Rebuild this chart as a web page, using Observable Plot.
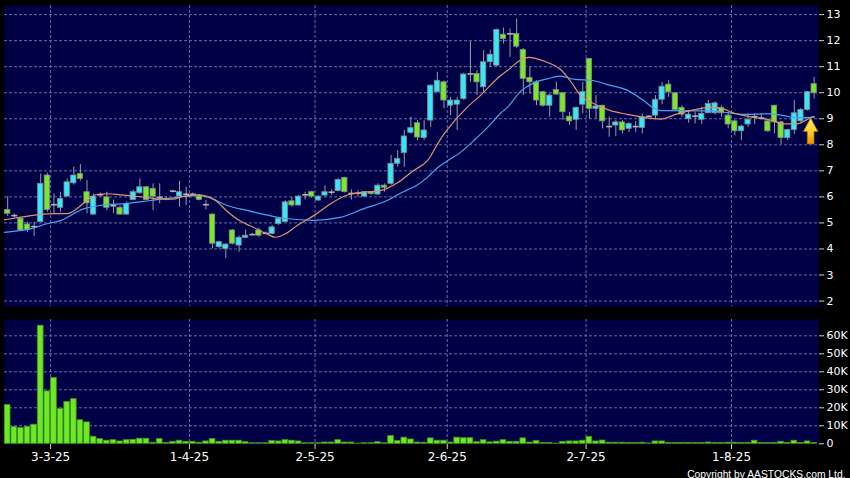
<!DOCTYPE html>
<html><head><meta charset="utf-8">
<script src="https://cdn.jsdelivr.net/npm/d3@7"></script>
<script src="https://cdn.jsdelivr.net/npm/@observablehq/plot@0.6"></script>
<style>
html,body{margin:0;padding:0;background:#000;}
#chart{position:relative;width:850px;height:478px;overflow:hidden;background:#000;font-family:"DejaVu Sans",sans-serif;}
#chart svg{display:block;}
</style></head><body><div id="chart"></div>
<script>
// ---- data (one entry per trading day, index 0 = 21-2-25) ----
const opens = [5.50,5.28,5.16,4.94,4.86,5.03,6.82,5.70,5.58,6.01, 6.52,6.88,6.18,5.32,6.08,5.98,5.66,5.58,5.32,5.88, 6.14,6.37,6.31,5.98,5.92,6.22,6.01,6.10,6.10,6.05, 5.70,5.32,4.07,4.00,4.71,4.13,4.43,4.55,4.71,4.60, 4.58,4.96,5.03,5.83,5.67,6.08,6.18,5.86,6.05,6.18, 6.22,6.73,6.13,6.14,6.01,6.18,6.09,6.43,6.50,7.27, 7.68,8.46,8.83,8.26,8.93,10.02,10.40,9.50,9.54,9.76, 10.72,10.72,10.21,11.17,11.04,12.23,12.26,12.26,11.64,10.57, 10.40,10.02,9.50,10.11,9.98,9.08,8.96,9.54,11.30,9.38, 9.50,8.70,8.74,8.86,8.61,8.70,8.65,9.09,9.12,9.73, 10.31,9.98,9.42,8.99,9.10,8.96,9.21,9.21,9.42,9.12, 8.90,8.52,8.78,9.08,9.03,8.90,9.50,8.86,8.26,8.57, 8.90,9.34,10.33];
const highs = [6.00,5.35,5.20,5.03,5.03,6.88,6.91,6.11,6.18,6.69, 7.14,7.24,6.63,6.11,6.15,6.18,5.88,5.65,5.80,6.25, 6.69,6.40,6.50,6.50,6.00,6.25,6.60,6.37,6.15,6.10, 5.86,5.35,4.30,4.20,4.75,4.50,4.73,4.60,4.80,4.65, 4.90,5.20,5.85,5.98,6.05,6.18,6.22,6.05,6.43,6.27, 6.70,6.75,6.27,6.24,6.20,6.20,6.50,6.50,7.59,7.78, 8.55,9.06,8.93,8.93,10.30,10.78,10.45,9.82,9.82,10.75, 11.97,10.85,11.62,11.64,12.45,12.49,12.45,12.83,11.70,10.98, 10.46,10.05,9.95,10.40,10.00,9.25,9.45,10.40,11.32,9.89, 9.52,9.06,8.93,8.93,8.85,8.90,9.19,9.12,9.89,10.40, 10.46,10.00,9.50,9.31,9.25,9.44,9.70,9.65,9.50,9.25, 8.95,8.75,9.19,9.19,9.19,8.95,9.52,8.90,8.60,9.70, 9.40,10.05,10.59];
const lows = [5.25,5.20,4.68,4.64,4.48,5.00,5.41,5.35,5.41,6.00, 6.45,6.60,5.35,5.30,6.00,5.47,5.35,5.30,5.30,5.85, 6.10,5.85,5.47,5.73,5.85,6.15,5.60,5.67,6.05,5.85, 5.50,4.00,4.00,3.62,4.15,3.87,4.39,4.50,4.45,4.55, 4.55,4.90,5.00,5.60,5.65,5.88,5.95,5.83,6.00,6.05, 6.20,6.15,5.88,5.99,5.98,6.05,6.05,6.18,6.45,7.14, 7.14,8.40,8.16,8.16,8.67,10.00,9.38,9.12,8.55,9.70, 10.40,9.89,10.02,10.98,11.00,11.87,11.36,11.70,9.89,9.95, 9.50,9.45,9.06,9.90,8.93,8.74,8.55,9.19,8.99,8.99, 8.61,8.29,8.31,8.42,8.48,8.48,8.42,9.05,8.99,9.54, 9.82,9.30,9.06,8.83,8.80,8.78,9.20,9.15,9.06,8.61, 8.35,8.16,8.67,8.78,8.95,8.48,8.42,8.01,8.16,8.40, 8.80,9.30,9.76];
const closes = [5.35,5.28,4.71,4.73,4.86,6.50,5.50,5.70,5.92,6.56, 6.82,6.69,5.75,6.01,6.08,5.58,5.66,5.32,5.73,6.18, 6.37,5.88,6.01,5.98,5.92,6.22,6.18,6.10,6.10,5.88, 5.70,4.20,4.26,4.17,4.20,4.43,4.51,4.55,4.51,4.60, 4.83,5.16,5.79,5.67,6.01,6.08,6.01,6.01,6.18,6.18, 6.65,6.18,6.13,6.14,6.18,6.11,6.43,6.35,7.27,7.46, 8.32,8.64,8.28,8.55,10.27,10.46,9.70,9.70,9.70,10.70, 10.72,10.40,11.17,11.46,12.41,12.06,12.26,11.77,10.53,10.40, 9.70,9.50,9.89,9.93,9.25,8.90,9.42,10.02,9.38,9.47, 8.90,8.70,8.86,8.55,8.80,8.70,9.06,9.09,9.73,10.23, 10.02,9.34,9.16,9.16,9.10,9.19,9.57,9.59,9.21,8.78, 8.52,8.70,8.96,9.08,9.03,8.52,8.86,8.26,8.57,9.21, 9.34,10.02,9.98];
const volumesK = [21.5,9.4,8.7,9.4,10.6,65.6,29.1,36.5,19.3,23.3, 24.8,13.1,11.9,3.9,2.6,1.7,2.0,1.3,2.0,2.2, 2.8,2.8,0.6,2.6,0.4,1.1,1.7,1.1,1.1,0.6, 1.3,2.6,1.1,1.7,1.7,1.7,0.9,0.3,0.3,0.3, 1.5,1.3,2.0,1.7,1.3,0.3,0.3,0.3,0.7,0.7, 2.0,0.7,0.7,0.1,0.3,0.3,0.9,0.3,4.3,1.5, 3.4,2.4,0.7,0.6,3.0,1.7,1.7,0.7,3.4,3.1, 3.1,0.9,2.0,0.8,1.2,2.0,1.1,1.1,3.0,0.7, 1.5,0.4,0.4,0.1,1.1,1.3,1.3,1.7,3.9,1.3, 1.8,0.6,0.6,0.6,0.4,0.4,0.6,0.2,1.3,1.3, 0.4,0.4,0.4,0.4,0.4,0.4,0.7,0.4,0.4,0.6, 0.6,0.4,0.4,1.7,0.4,0.4,0.4,1.1,0.4,1.7, 0.4,1.3,0.4];

// moving averages (day index, price)
const maShortIdx = [-0.5,2,5,7,9,10.5,12,13.5,15,17,19,21,23,25,26.5,28.5,30,31.5,33.2,35,37,39.2,40.5,42,43.8,46.3,48.8,51.4,53.9,56.4,58.9,61.4,63.5,65.5,66.5,69.5,71.5,72.5,74.6,75.6,77.6,78.8,80.1,81.6,83.6,85.1,86.7,88.7,91.2,93.7,96.2,98.8,101.3,103.8,106.3,108.3,109.5,111.4,113.4,115.4,117.4,119.4,121.4,122];
const maShortVal = [5.12,5.22,5.33,5.36,5.36,5.55,5.87,6.10,6.12,6.08,6.03,5.98,5.92,5.91,6.02,6.08,6.03,5.85,5.45,5.10,4.85,4.58,4.45,4.58,4.90,5.28,5.73,6.07,6.18,6.24,6.53,7.01,7.39,8.23,8.58,9.44,9.89,10.15,10.66,10.85,11.26,11.36,11.30,11.17,10.90,10.46,9.88,9.58,9.31,9.17,9.05,8.99,9.19,9.34,9.44,9.38,9.25,9.12,9.03,8.95,8.80,8.80,9.03,9.09];
const maLongIdx = [-0.5,4,5.5,8,11.5,14,18.1,21.6,25.6,28.7,30.2,33.2,36.2,39.3,42,46.3,50.3,53.9,57.4,59.4,60.4,61.9,63.5,64.5,66.5,68.5,70.5,72.5,74.6,75.6,77.6,79.6,81.6,83.6,85.6,88.7,90.6,93.7,96.2,97.5,98.8,106.3,108.3,111.4,115.4,117.4,119.4,122];
const maLongVal = [4.64,4.81,4.94,5.09,5.54,5.67,5.75,5.86,5.98,6.05,6.00,5.67,5.48,5.30,5.17,5.10,5.21,5.55,5.86,6.14,6.26,6.45,6.75,7.00,7.38,7.71,8.16,8.64,9.22,9.44,10.05,10.38,10.53,10.64,10.52,10.46,10.32,10.10,9.70,9.45,9.31,9.30,9.25,9.17,9.19,9.12,9.04,9.06];

const tickIdx = [6, 27, 46, 66, 87, 109];
const tickLabels = ["3-3-25", "1-4-25", "2-5-25", "2-6-25", "2-7-25", "1-8-25"];
const priceTicks = [2,3,4,5,6,7,8,9,10,11,12,13];
const volTicks = [0,10,20,30,40,50,60];
const marker = [{i: 122, p: 9.03}];
const copyright = "Copyright by AASTOCKS.com Ltd.";

// ---- styling ----
const NAVY = "#000046", GRID = "#6a6aa6", UP = "#38e6f8", DOWN = "#7be62c", VOLG = "#6ee826";
const ORANGE = "#e0926c", BLUE = "#44a6ee";
const X_DOMAIN = [-0.48, 122.66];

const candles = opens.map((o, i) => ({i, open: o, high: highs[i], low: lows[i], close: closes[i], vol: volumesK[i]}));
const maShort = maShortIdx.map((x, k) => ({x, v: maShortVal[k]}));
const maLong = maLongIdx.map((x, k) => ({x, v: maLongVal[k]}));
const gridPos = tickIdx.map(d => d + 0.5);
const labelMap = new Map(gridPos.map((p, k) => [p, tickLabels[k]]));

const arrowSymbol = {
  draw(ctx) {
    ctx.moveTo(0, 0); ctx.lineTo(7.3, 13.5); ctx.lineTo(3.4, 13.5); ctx.lineTo(3.4, 26);
    ctx.lineTo(-3.4, 26); ctx.lineTo(-3.4, 13.5); ctx.lineTo(-7.3, 13.5); ctx.closePath();
  }
};

const gridStyle = {stroke: GRID, strokeDasharray: "3,2", strokeWidth: 1};

const price = Plot.plot({
  width: 850, height: 312,
  marginTop: 5, marginBottom: 6, marginLeft: 4, marginRight: 32,
  style: {background: "#000", color: "#fff", fontFamily: "DejaVu Sans, sans-serif"},
  x: {domain: X_DOMAIN, axis: null},
  y: {domain: [1.79, 13.35]},
  color: {type: "identity"},
  marks: [
    Plot.frame({fill: NAVY}),
    Plot.ruleY(priceTicks, gridStyle),
    Plot.ruleX(gridPos, gridStyle),
    Plot.ruleX(candles, {x: "i", y1: "low", y2: "high", stroke: "#9c9c9c", strokeWidth: 1}),
    Plot.rect(candles.filter(d => d.close !== d.open), {
      x1: d => d.i - 0.4, x2: d => d.i + 0.4, y1: "open", y2: "close",
      fill: d => d.close > d.open ? UP : DOWN, stroke: "#7d8c8c", strokeWidth: 0.8
    }),
    Plot.link(candles.filter(d => d.close === d.open), {
      x1: d => d.i - 0.45, x2: d => d.i + 0.45, y1: "close", y2: "close", stroke: "#b4b4b4", strokeWidth: 1.6
    }),
    Plot.line(maLong, {x: "x", y: "v", stroke: BLUE, strokeWidth: 1.2, curve: "monotone-x", clip: true}),
    Plot.line(maShort, {x: "x", y: "v", stroke: ORANGE, strokeWidth: 1.2, curve: "monotone-x", clip: true}),
    Plot.dot(marker, {x: "i", y: "p", dx: -3.5, r: 6, symbol: arrowSymbol, fill: "url(#arrowGrad)", stroke: "#a86a00", strokeWidth: 0.7}),
    Plot.axisY(priceTicks, {anchor: "right", tickSize: 5, tickPadding: 3, fontSize: 11, label: null, stroke: "#cfcfcf"})
  ]
});

// gradient for the marker arrow
const defs = d3.select(price).insert("defs", ":first-child");
const grad = defs.append("linearGradient").attr("id", "arrowGrad").attr("x1", 0).attr("y1", 0).attr("x2", 0).attr("y2", 1);
grad.append("stop").attr("offset", "0%").attr("stop-color", "#fff27a");
grad.append("stop").attr("offset", "55%").attr("stop-color", "#ffcc22");
grad.append("stop").attr("offset", "100%").attr("stop-color", "#e89400");

const vol = Plot.plot({
  width: 850, height: 166,
  marginTop: 7, marginBottom: 34, marginLeft: 4, marginRight: 32,
  style: {background: "#000", color: "#fff", fontFamily: "DejaVu Sans, sans-serif"},
  x: {domain: X_DOMAIN},
  y: {domain: [-0.4, 69.06]},
  marks: [
    Plot.frame({fill: NAVY}),
    Plot.ruleY(volTicks.filter(d => d > 0), gridStyle),
    Plot.ruleX(gridPos, gridStyle),
    Plot.rect(candles, {x1: d => d.i - 0.43, x2: d => d.i + 0.43, y1: 0, y2: "vol", fill: VOLG, stroke: "#3f9a18", strokeWidth: 0.8}),
    Plot.axisY(volTicks, {anchor: "right", tickSize: 5, tickPadding: 3, fontSize: 11, label: null, stroke: "#cfcfcf",
      tickFormat: d => d === 0 ? "0" : d + "K"}),
    Plot.axisX(gridPos, {anchor: "bottom", tickSize: 5, tickPadding: 3, fontSize: 12, label: null, stroke: "#cfcfcf",
      tickFormat: d => labelMap.get(d)}),
    Plot.text([copyright], {frameAnchor: "bottom-right", dx: 27, dy: 33, fontSize: 10.3, fontFamily: "Liberation Sans, Arial, sans-serif",
      fill: "#fff", lineAnchor: "bottom", textAnchor: "end"})
  ]
});

const root = document.getElementById("chart");
root.appendChild(price);
root.appendChild(vol);
</script>
</body></html>
